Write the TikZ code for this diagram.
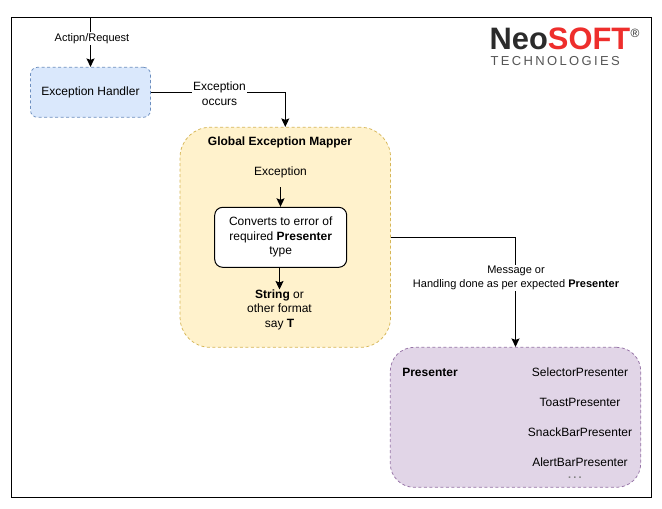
\documentclass[tikz,border=0pt]{standalone}
\usepackage{fontspec}
\setmainfont{Liberation Sans}
\usetikzlibrary{arrows.meta,calc}
\definecolor{blueF}{HTML}{DAE8FC}\definecolor{blueD}{HTML}{6C8EBF}
\definecolor{yelF}{HTML}{FFF2CC}\definecolor{yelD}{HTML}{D6B656}
\definecolor{purF}{HTML}{E1D5E7}\definecolor{purD}{HTML}{9673A6}
\definecolor{logoRed}{HTML}{EE2E2C}\definecolor{logoDark}{HTML}{2B2B2B}\definecolor{logoGrey}{HTML}{555555}
\newcommand{\fs}[2]{\fontsize{#1}{#2}\selectfont}
\tikzset{
  x=1pt,y=1pt,
  conn/.style={draw=black,line width=1pt,-{Stealth[length=8.5pt,width=8pt,inset=1.5pt]}},
  dashbox/.style={draw,line width=0.75pt,dash pattern=on 3pt off 2.5pt,inner sep=0pt},
  txt/.style={inner sep=0pt,font=\fs{12}{14.5},align=center,text=black},
  lab/.style={fill=white,inner sep=1.5pt,font=\fs{11}{14},align=center,text=black},
}
\begin{document}
\begin{tikzpicture}
\useasboundingbox (0,0) rectangle (662,-509);
\fill[white] (0,0) rectangle (662,-509);
\node[draw=black,line width=1pt,minimum width=640pt,minimum height=479.5pt,inner sep=0pt,anchor=north west] (frame) at (10.5,-17.3) {};
\coordinate (entry) at (90.5,-17.3);
\node[dashbox,fill=blueF,draw=blueD,rounded corners=7pt,minimum width=120pt,minimum height=50pt,font=\fs{12}{14}] (handler) at (90.5,-92.3) {Exception Handler};
\node[dashbox,fill=yelF,draw=yelD,rounded corners=30pt,minimum width=210.5pt,minimum height=220pt] (mapper) at (285.3,-237.3) {};
\node[dashbox,fill=purF,draw=purD,rounded corners=24pt,minimum width=250.5pt,minimum height=140pt] (presenter) at (515.5,-417.3) {};
\node[draw=black,line width=1pt,fill=white,rounded corners=8pt,minimum width=132pt,minimum height=60pt,inner sep=0pt,font=\fs{12}{14.5}] (conv) at (280.7,-237.3) {\raisebox{-1pt}{\begin{tabular}{@{}c@{}}Converts to error of\\ required \textbf{Presenter}\\ type\end{tabular}}};
\node[txt,font=\bfseries\fs{12}{14}] (maptitle) at (280,-142.7) {Global Exception Mapper};
\node[txt] (exc) at (280.5,-172.7) {Exception};
\node[txt,anchor=north] (out) at (279.5,-289.5) {\textbf{String} or\\ other format\\ say \textbf{T}};
\coordinate (excbot) at (280.5,-187);
\draw[conn] (excbot) -- (conv.north -| excbot);
\coordinate (convbot) at (279.5,-267.3);
\draw[conn] (convbot) -- (out.north);
\node[txt,font=\bfseries\fs{12}{14}] (ptitle) at (430,-372) {Presenter};
\node[txt] (p1) at (580,-372) {SelectorPresenter};
\node[txt] (p2) at (580,-402) {ToastPresenter};
\node[txt] (p3) at (580,-432) {SnackBarPresenter};
\node[txt,text depth=0pt] (p4) at (580,-462) {AlertBarPresenter};
\node[inner sep=0pt,text=gray,font=\bfseries\fs{11}{12},text height=1.5pt,text depth=0pt,anchor=base] (p5) at (575,-478) {\addfontfeatures{LetterSpace=20}...};
\draw[conn] (entry) -- node[lab,pos=0.42,xshift=1.5pt,yshift=-0.5pt] (l1) {Actipn/Request} (handler.north);
\draw[conn] (handler.east) -| (mapper.north);
\node[fill=white,inner sep=1pt,font=\fs{12}{15},align=center] (l2) at (219.5,-93.5) {Exception\\ occurs};
\draw[conn] (mapper.east) -| (presenter.north);
\node[lab] (l3) at (516,-278) {Message or\\ Handling done as per expected \textbf{Presenter}};
\node[inner sep=0pt,anchor=base west,text=logoDark,font=\bfseries\fs{31}{31},text depth=0pt,text height=22pt] (neo) at (489.5,-49.5) {\scalebox{0.995}[1]{Neo\textcolor{logoRed}{SOFT}}};
\node[inner sep=0pt,text=logoDark,font=\fs{12}{12}] (reg) at (635,-33) {®};
\node[inner sep=0pt,anchor=base west,text=logoGrey,font=\fs{13}{13},text depth=0pt] (tech) at (490.5,-65) {\addfontfeatures{LetterSpace=18}TECHNOLOGIES};
\end{tikzpicture}
\end{document}
